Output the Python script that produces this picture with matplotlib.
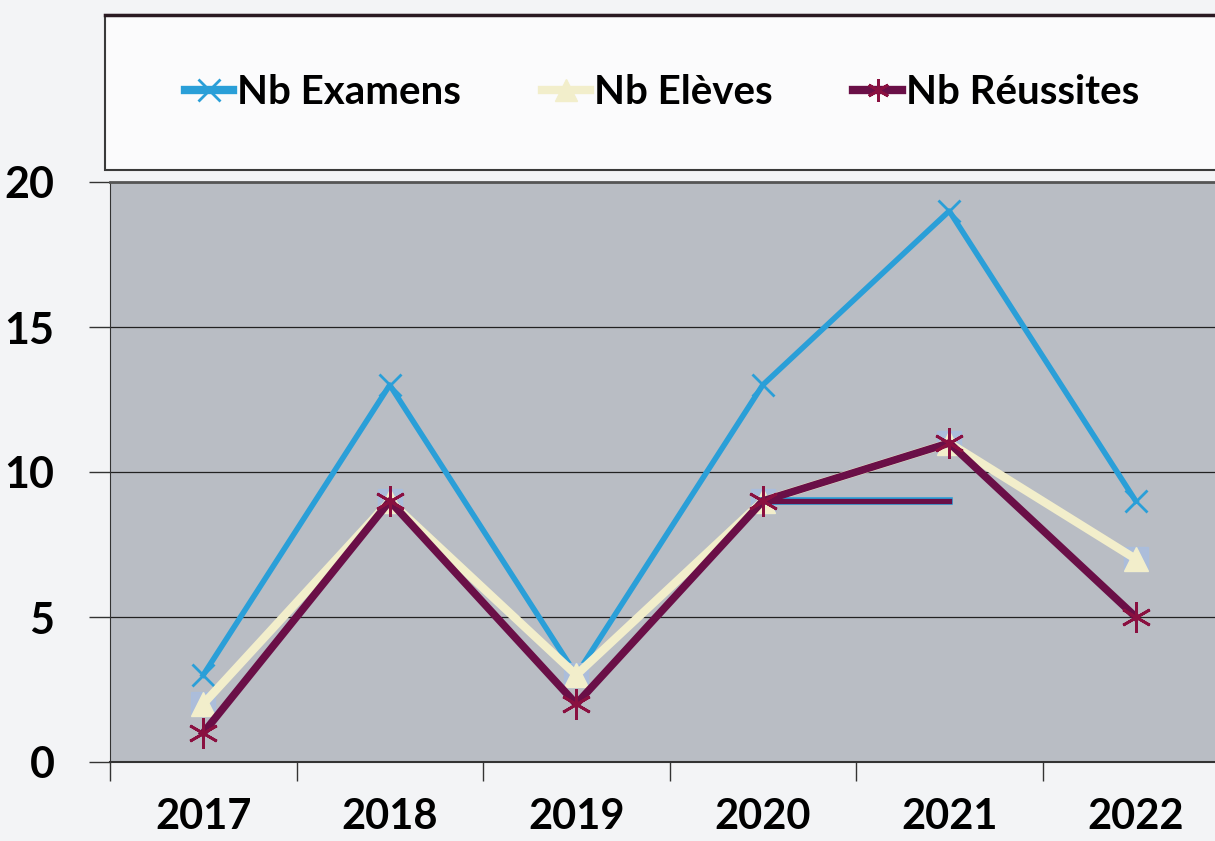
import numpy as np
import matplotlib
matplotlib.use("Agg")
import matplotlib.pyplot as plt
from matplotlib.patches import Rectangle
from matplotlib.ticker import FixedLocator

years = ["2017", "2018", "2019", "2020", "2021", "2022"]
examens = [3, 13, 3, 13, 19, 9]
eleves = [2, 9, 3, 9, 11, 7]
reussites = [1, 9, 2, 9, 11, 5]
# stray segment visible in the original (2020 -> 2021 at 9)
stray = [np.nan, np.nan, np.nan, 9, 9, np.nan]

plt.rcParams['font.family'] = ['Lato', 'DejaVu Sans']

W, H = 1215, 841
fig = plt.figure(figsize=(W / 100, H / 100), dpi=100)
fig.patch.set_facecolor("#f3f4f6")

# plot area in pixel coordinates of the reference
left, right, top, bottom = 110, 1229, 182, 762
ax = fig.add_axes([left / W, 1 - bottom / H, (right - left) / W, (bottom - top) / H])
ax.set_facecolor("#b9bdc4")

x = np.arange(len(years))

ax.plot(x, examens, color="#2a9fd8", lw=4, marker="x", ms=16, mew=2,
        mec="#2a9fd8", zorder=3, label="Nb Examens")
ax.plot(x, eleves, color="#a9bde0", lw=0, marker="s", ms=17, alpha=0.8, zorder=3.5)
ax.plot(x, eleves, color="#f2eecb", lw=6, marker="^", ms=17, mec="#f2eecb",
        mfc="#f2eecb", zorder=4, label="Nb Elèves")
ax.plot(x, stray, color="#2a9fd8", lw=5.5, zorder=4.5)
ax.plot(x, stray, color="#6a0f47", lw=3.8, zorder=4.6)
ax.plot(x, reussites, color="#6a0f47", lw=5.5, marker=(6, 2, 0), ms=22, mew=2,
        mec="#8a1040", zorder=5, label="Nb Réussites")

ax.set_xlim(-0.5, len(years) - 0.5)
ax.set_ylim(0, 20)
ax.set_yticks([0, 5, 10, 15, 20])
ax.yaxis.grid(True, color="#222222", lw=0.9)
ax.set_axisbelow(True)

ax.set_xticks(x)
ax.set_xticklabels(years, fontsize=30, fontweight="bold")
ax.xaxis.set_minor_locator(FixedLocator(np.arange(-0.5, len(years), 1.0)))
ax.tick_params(axis="x", which="major", length=0, pad=26)
ax.tick_params(axis="x", which="minor", length=14, width=1, color="#333333")
ax.tick_params(axis="y", length=15, width=1, color="#333333", labelsize=31, pad=25)
for lab in ax.get_yticklabels():
    lab.set_fontweight("bold")

ax.spines["right"].set_visible(False)
ax.spines["top"].set_color("#555555")
ax.spines["top"].set_linewidth(2)
ax.spines["left"].set_color("#333333")
ax.spines["bottom"].set_color("#333333")
ax.spines["bottom"].set_linewidth(1.5)

# legend box
fig.patches.append(Rectangle((105 / W, 1 - 170 / H), (1240 - 105) / W, 155 / H,
                             transform=fig.transFigure, facecolor="#fbfbfc",
                             edgecolor="#3a3a3a", lw=1.5, zorder=0))
fig.add_artist(plt.Line2D([105 / W, 1], [1 - 15 / H, 1 - 15 / H], color="#2a1a22",
                          lw=2.5, transform=fig.transFigure))

h, l = ax.get_legend_handles_labels()
leg = fig.legend(h, l, loc="center", bbox_to_anchor=(662 / W, 1 - 93 / H), ncol=3,
                 frameon=False, prop={"weight": "bold", "size": 29},
                 handlelength=1.2, handletextpad=0.1, columnspacing=2.0)
for lh in leg.legend_handles:
    lh.set_markersize(16)
    lh.set_linewidth(6)

fig.savefig("out.png", dpi=100, facecolor=fig.get_facecolor())
